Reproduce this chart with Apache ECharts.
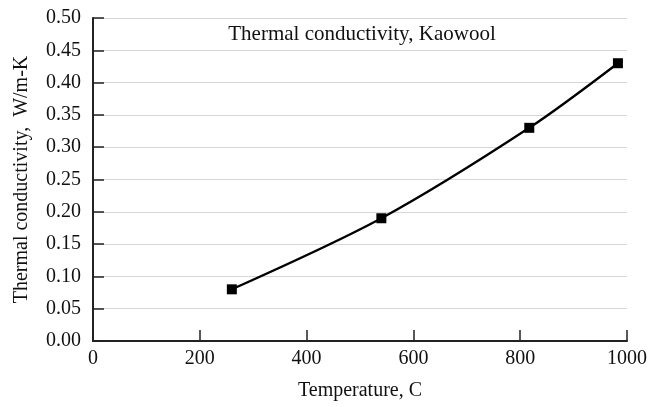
<!DOCTYPE html>
<html>
<head>
<meta charset="utf-8">
<script src="https://cdn.jsdelivr.net/npm/echarts@6/dist/echarts.min.js"></script>
<style>html,body{margin:0;padding:0;background:#fff}#c{width:650px;height:407px}</style>
</head>
<body>
<div id="c"></div>
<script>
var temperatures = [260, 540, 817, 983];
var conductivity = [0.08, 0.19, 0.33, 0.43];
var chartTitle = 'Thermal conductivity, Kaowool';
var xName = 'Temperature, C';
var yName = 'Thermal conductivity,  W/m-K';

var font = '"Liberation Serif", "Times New Roman", serif';
var chart = echarts.init(document.getElementById('c'), null, {renderer: 'canvas'});
var data = temperatures.map(function (t, i) { return [t, conductivity[i]]; });
chart.setOption({
  animation: false,
  backgroundColor: '#fff',
  title: {
    text: chartTitle,
    left: 362, top: 24, textAlign: 'center', padding: 0,
    textStyle: {fontFamily: font, fontSize: 21, fontWeight: 'normal', color: '#111'}
  },
  grid: {left: 93, right: 19, top: 18, bottom: 66},
  xAxis: {
    type: 'value', min: 0, max: 1000, interval: 200,
    name: xName, nameLocation: 'middle', nameGap: 40,
    nameTextStyle: {fontFamily: font, fontSize: 20, color: '#111'},
    axisLine: {lineStyle: {color: '#222', width: 2}},
    axisTick: {show: true, inside: true, length: 11, lineStyle: {color: '#222', width: 1.5}},
    axisLabel: {fontFamily: font, fontSize: 20, color: '#111', margin: 8,
      formatter: function (v) { return String(v); }},
    splitLine: {show: false}
  },
  yAxis: {
    type: 'value', min: 0, max: 0.5, interval: 0.05,
    name: yName, nameLocation: 'middle', nameGap: 61,
    nameTextStyle: {fontFamily: font, fontSize: 20, color: '#111'},
    axisLine: {show: true, lineStyle: {color: '#222', width: 2}},
    axisTick: {show: true, inside: true, length: 11, lineStyle: {color: '#222', width: 1.5}},
    axisLabel: {fontFamily: font, fontSize: 20, color: '#111', margin: 12,
      formatter: function (v) { return v.toFixed(2); }},
    splitLine: {show: true, lineStyle: {color: '#d6d6d6', width: 1}}
  },
  series: [{
    type: 'line', data: data, smooth: 0.3,
    symbol: 'rect', symbolSize: 10,
    lineStyle: {color: '#000', width: 2.3},
    itemStyle: {color: '#000'}
  }]
});
</script>
</body>
</html>
